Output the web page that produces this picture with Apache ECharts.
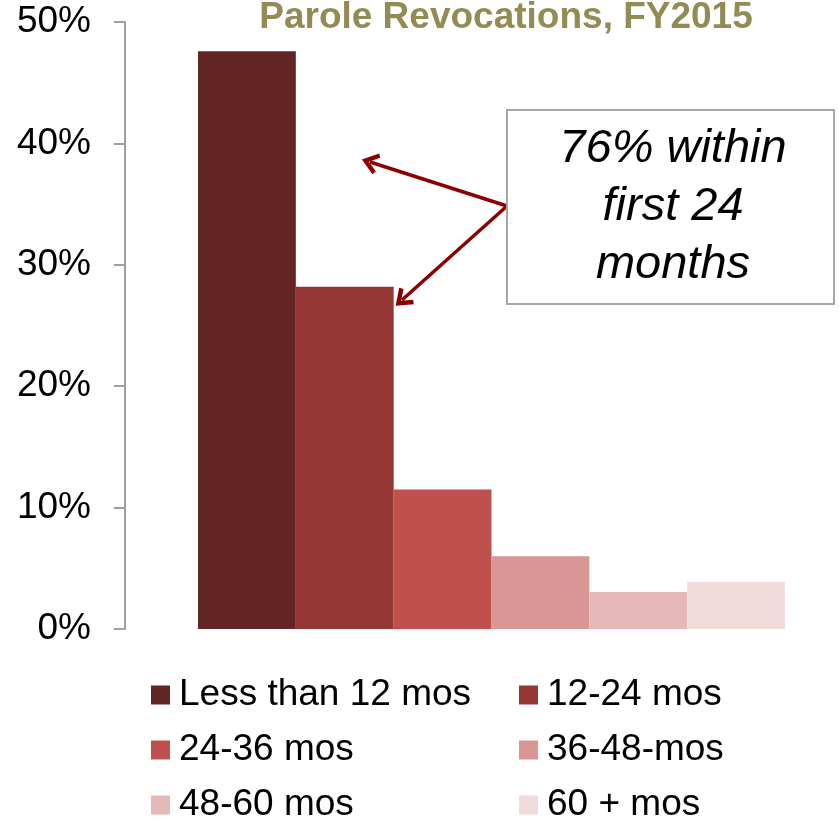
<!DOCTYPE html>
<html>
<head>
<meta charset="utf-8">
<script src="https://cdn.jsdelivr.net/npm/echarts@6/dist/echarts.min.js"></script>
<style>
  html, body { margin: 0; padding: 0; background: #fff; }
  #chart { width: 839px; height: 819px; }
</style>
</head>
<body>
<div id="chart"></div>
<script>
// data
const groups = ['Less than 12 mos', '12-24 mos', '24-36 mos', '36-48-mos', '48-60 mos', '60 + mos'];
const shares = [47.6, 28.2, 11.5, 6.0, 3.05, 3.9];
const note = '76% within\nfirst 24\nmonths';

const palette = ['#632523', '#953735', '#C0504D', '#D99694', '#E6B9B8', '#F2DCDB'];
const font = '"Liberation Sans", Arial, sans-serif';
const arrowHead = 'path://M0,12 L10,0 L20,12 L16.5,14 L10,6 L3.5,14 Z';

const chart = echarts.init(document.getElementById('chart'));

const series = groups.map((name, i) => ({
  name: name,
  type: 'bar',
  data: [shares[i]],
  barGap: '0%',
  barCategoryGap: '0%',
  itemStyle: { color: palette[i] },
  emphasis: { disabled: true }
}));

// arrows from the note box to the first two bars
series[0].markLine = {
  silent: true,
  symbol: ['none', arrowHead],
  symbolSize: [22, 17],
  label: { show: false },
  lineStyle: { color: '#8B0000', width: 3.5, type: 'solid' },
  data: [
    [{ x: 507, y: 206 }, { x: 370, y: 162 }],
    [{ x: 507, y: 206 }, { x: 402, y: 300 }]
  ]
};

// legend: two columns, three rows, one legend per entry so nothing wraps
const legends = groups.map((name, i) => ({
  data: [name],
  left: i % 2 === 0 ? 151 : 519,
  top: 675 + Math.floor(i / 2) * 55,
  padding: 0,
  icon: 'rect',
  itemWidth: 19,
  itemHeight: 19,
  selectedMode: false,
  textStyle: { fontFamily: font, fontSize: 37, lineHeight: 40, color: '#000', padding: [0, 0, 0, 4] }
}));

const option = {
  animation: false,
  title: {
    text: 'Parole Revocations, FY2015',
    left: 501,
    top: -6,
    textAlign: 'center',
    textStyle: { fontFamily: font, fontSize: 37, fontWeight: 'bold', color: '#948A54' }
  },
  legend: legends,
  grid: { left: 198, right: 54, top: 22, bottom: 190 },
  xAxis: {
    type: 'category',
    data: [''],
    show: false
  },
  yAxis: {
    type: 'value',
    min: 0,
    max: 50,
    interval: 10,
    offset: 73,
    axisLine: { show: true, lineStyle: { color: '#A0A0A0', width: 2 } },
    axisTick: { show: true, length: 11, lineStyle: { color: '#A0A0A0', width: 2 } },
    splitLine: { show: false },
    axisLabel: {
      formatter: '{value}%',
      margin: 34,
      fontFamily: font,
      fontSize: 37,
      color: '#000'
    }
  },
  graphic: [
    {
      type: 'rect',
      shape: { x: 507, y: 110, width: 327, height: 194 },
      style: { fill: '#fff', stroke: '#A6A6A6', lineWidth: 2 },
      z: 10
    },
    {
      type: 'text',
      x: 673,
      y: 207,
      style: {
        text: note,
        fontFamily: font,
        fontSize: 47,
        fontStyle: 'italic',
        lineHeight: 58,
        fill: '#000',
        align: 'center',
        verticalAlign: 'middle'
      },
      z: 11
    }
  ],
  series: series
};

chart.setOption(option);
</script>
</body>
</html>
